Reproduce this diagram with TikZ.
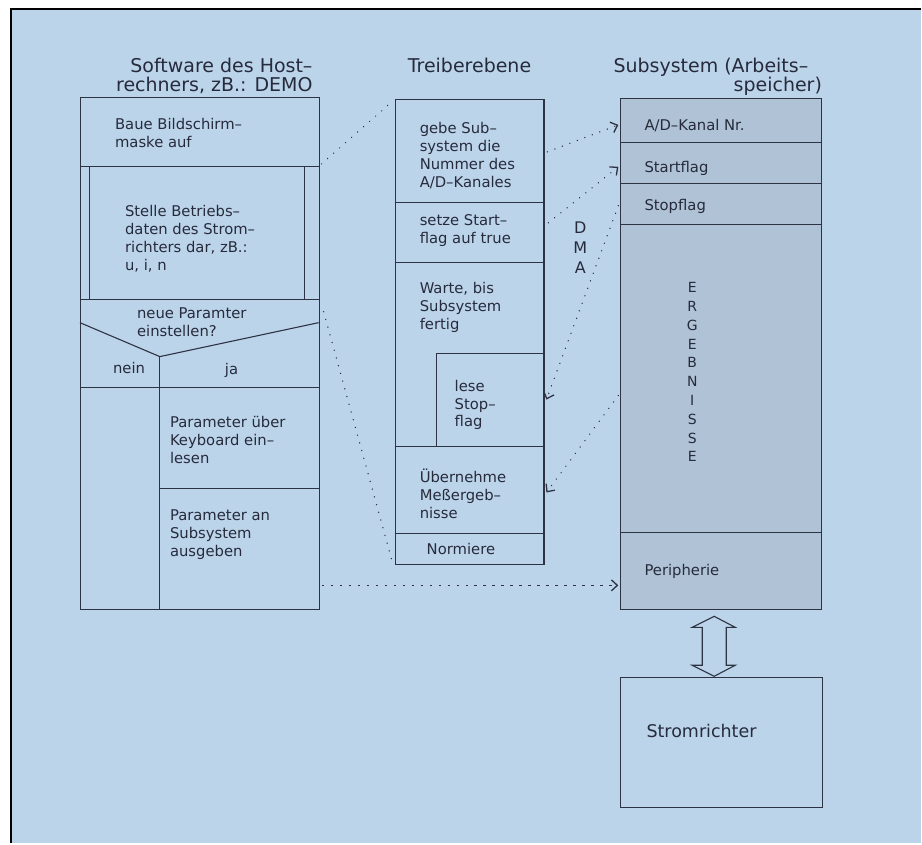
\documentclass[tikz,border=0pt]{standalone}
\usepackage{fontspec}
\setmainfont{DejaVu Sans}
\usetikzlibrary{arrows.meta}
\definecolor{bg}{HTML}{BCD4EA}
\definecolor{stip}{HTML}{B0C2D6}
\definecolor{ink}{HTML}{262B3C}
\definecolor{ln}{HTML}{2E3343}
\begin{document}
\begin{tikzpicture}[x=1pt,y=-1pt,
  txt/.style={font=\fontsize{14.8}{18}\selectfont, text=ink, align=left, anchor=north west, inner sep=0pt},
  ttl/.style={font=\fontsize{19}{19}\selectfont, text=ink, inner sep=0pt},
  box/.style={draw=ln, line width=1.1pt},
  dots/.style={draw=ln, line width=1.5pt, dash pattern=on 0.01pt off 8pt, line cap=round},
  dashes/.style={draw=ln, line width=1.1pt, dash pattern=on 2.5pt off 6.5pt},
  arr/.style={-{Straight Barb[length=6pt,width=11pt,line width=1.3pt]}}
]
% page and frame
\fill[white] (0,0) rectangle (922,844);
\fill[bg] (11,9) rectangle (922,844);
\draw[black, line width=2pt] (11,844) -- (11,9) -- (922,9);
\useasboundingbox (0,0) rectangle (922,844);

% titles
\node[ttl, anchor=north east, align=right] (tL) at (313,58) {Software des Host–\\rechners, zB.: DEMO};
\node[ttl, anchor=north] (tM) at (470,58) {Treiberebene};
\node[ttl, anchor=north west] (tR1) at (614,58) {Subsystem (Arbeits–};
\node[ttl, anchor=north east] (tR2) at (823,77) {speicher)};

% ---------------- left column ----------------
\node[box, anchor=north west, minimum width=239pt, minimum height=513pt, inner sep=0pt] (L) at (80,97) {};
\draw[box] (80,167) -- (319,167);
\draw[box] (90,167) -- (90,300);
\draw[box] (305,167) -- (305,300);
\draw[box] (80,300) -- (319,300);
\draw[box] (80,323) -- (160,357) -- (319,323);
\draw[box] (80,388) -- (319,388);
\draw[box] (160,357) -- (160,610);
\draw[box] (160,489) -- (319,489);

\node[txt] (l1) at (115,118) {Baue Bildschirm–\\maske auf};
\node[txt] (l2) at (125,205) {Stelle Betriebs–\\daten des Strom–\\richters dar, zB.:\\u, i, n};
\node[txt] (l3) at (137,308) {neue Paramter\\einstellen?};
\node[txt] (l4) at (113,362) {nein};
\node[txt] (l5) at (225,363) {ja};
\node[txt] (l6) at (170,417) {Parameter über\\Keyboard ein–\\lesen};
\node[txt] (l7) at (170,510) {Parameter an\\Subsystem\\ausgeben};

% ---------------- middle column ----------------
\node[box, anchor=north west, minimum width=149pt, minimum height=466pt, inner sep=0pt] (M) at (395,99) {};
\draw[box] (395,203) -- (544,203);
\draw[box] (395,263) -- (544,263);
\draw[box] (437,447) -- (437,354) -- (544,354);
\draw[box] (395,447) -- (544,447);
\draw[box] (395,534) -- (544,534);

\node[txt] (m1) at (420,122) {gebe Sub–\\system die\\Nummer des\\A/D–Kanales};
\node[txt] (m2) at (420,215) {setze Start–\\flag auf true};
\node[txt] (m3) at (420,282) {Warte, bis\\Subsystem\\fertig};
\node[txt] (m4) at (455,380) {lese\\Stop–\\flag};
\node[txt] (m5) at (420,469) {Übernehme\\Meßergeb–\\nisse};
\node[txt, anchor=west] (m6) at (427,550) {Normiere};

% ---------------- right column ----------------
\node[box, fill=stip, anchor=north west, minimum width=201pt, minimum height=512pt, inner sep=0pt] (R) at (621,98) {};
\draw[box] (621,143) -- (822,143);
\draw[box] (621,184) -- (822,184);
\draw[box] (621,225) -- (822,225);
\draw[box] (621,533) -- (822,533);

\node[txt] (r1) at (645,119) {A/D–Kanal Nr.};
\node[txt] (r2) at (645,161) {Startflag};
\node[txt] (r3) at (645,199) {Stopflag};
\node[txt] (r5) at (645,565) {Peripherie};
\foreach \ch [count=\i from 0] in {E,R,G,E,B,N,I,S,S,E}
  \node[font=\fontsize{14}{15}\selectfont, text=ink, inner sep=0pt] (e\i) at (693,288+18.8*\i) {\ch};

% Stromrichter
\node[box, anchor=north west, minimum width=202pt, minimum height=130pt, inner sep=0pt] (S) at (621,678) {};
\node[font=\fontsize{17.5}{19}\selectfont, text=ink, anchor=west, inner sep=0pt] (s1) at (647,732) {Stromrichter};

% double arrow between subsystem and Stromrichter
\draw[box, fill=bg] (715,617) -- (736,628) -- (727,628) -- (727,666) -- (736,666) -- (715,677)
  -- (693,666) -- (703,666) -- (703,628) -- (693,628) -- cycle;

% DMA
\node[font=\fontsize{16}{20}\selectfont, text=ink, inner sep=0pt, align=center] (dma) at (581,248) {D\\M\\A};

% connector coordinates
\coordinate (a1) at (322,164);
\coordinate (b1) at (391,103);
\coordinate (a2) at (324,312);
\coordinate (b2) at (392,560);
\coordinate (a3) at (322,586);
\coordinate (b3) at (619,586);
\coordinate (a4) at (548,152);
\coordinate (b4) at (619,125);
\coordinate (a5) at (549,223);
\coordinate (b5) at (619,167);
\coordinate (a6) at (619,206);
\coordinate (b6) at (547,400);
\coordinate (a7) at (619,396);
\coordinate (b7) at (547,493);

\draw[dots] (a1) -- (b1);
\draw[dots] (a2) -- (b2);
\draw[dashes, arr] (a3) -- (b3);
\draw[dots, arr] (a4) -- (b4);
\draw[dots, arr] (a5) -- (b5);
\draw[dots, arr] (a6) -- (b6);
\draw[dots, arr] (a7) -- (b7);
\end{tikzpicture}
\end{document}
